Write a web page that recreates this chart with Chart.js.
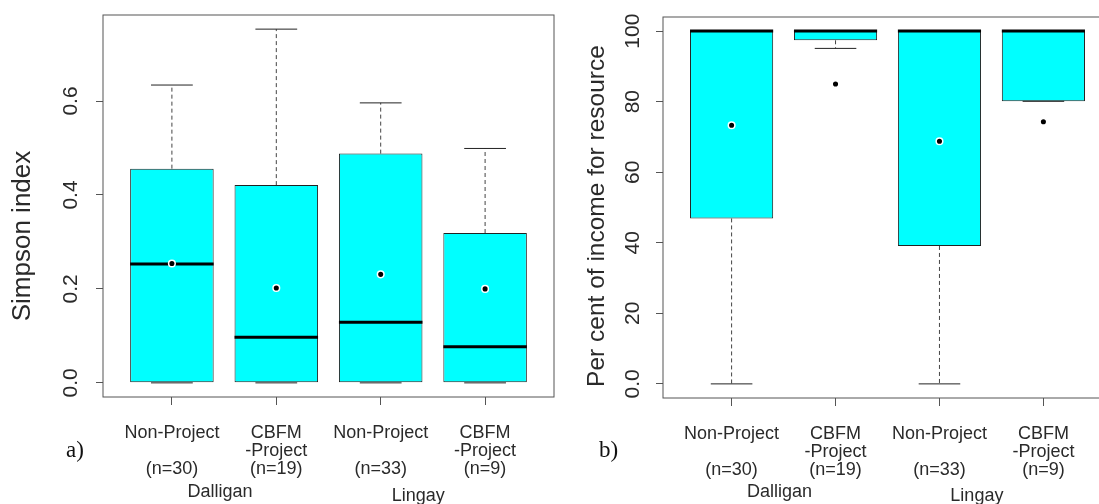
<!DOCTYPE html>
<html>
<head>
<meta charset="utf-8">
<script src="https://cdn.jsdelivr.net/npm/chart.js@4.4.1/dist/chart.umd.min.js"></script>
<style>
    html, body { margin: 0; padding: 0; background: #fff; width: 1099px; height: 504px; overflow: hidden; }
    .panel { position: absolute; top: 0; }
    .tag { position: absolute; font-family: "Liberation Serif", "DejaVu Serif", serif; font-size: 23px; line-height: 23px; color: #111; }
</style>
</head>
<body>
<div class="panel" style="left:0px"><canvas id="simpson" width="560" height="504"></canvas></div>
<div class="panel" style="left:565px"><canvas id="income" width="560" height="504"></canvas></div>
<div class="tag" style="left:66px; top:438px">a)</div>
<div class="tag" style="left:599px; top:438px">b)</div>
<script>

const categories = [
    ['Non-Project', '', '(n=30)'],
    ['CBFM', '-Project', '(n=19)'],
    ['Non-Project', '', '(n=33)'],
    ['CBFM', '-Project', '(n=9)']
]
const groups = ['Dalligan', 'Lingay']
const groupPos = [1.46, 3.36]

// a) Simpson index
const simpsonLow = [0, 0, 0, 0]
const simpsonQ1 = [0, 0, 0, 0]
const simpsonMedian = [0.253, 0.097, 0.129, 0.077]
const simpsonQ3 = [0.456, 0.421, 0.488, 0.319]
const simpsonHigh = [0.634, 0.753, 0.596, 0.499]
const simpsonMean = [0.254, 0.202, 0.231, 0.200]
const simpsonTicks = [0, 0.2, 0.4, 0.6]

// b) per cent of income for resource
const incomeLow = [0, 95.1, 0, 80.1]
const incomeQ1 = [46.9, 97.4, 39.1, 80.1]
const incomeMedian = [100, 100, 100, 100]
const incomeQ3 = [100, 100, 100, 100]
const incomeHigh = [100, 100, 100, 100]
const incomeMean = [73.3, 85.0, 68.8, 74.3]
const incomeTicks = [0, 20, 40, 60, 80, 100]

const FONT = '"Liberation Sans", Arial, sans-serif'
const TEXT = '#2a2a2a'

// whiskers, staples and medians go on top of the boxes, under the mean dots
const boxExtras = {
    id: 'boxExtras',
    afterDatasetDraw(chart, args, opts) {
        if (args.index !== 0) return
        const ctx = chart.ctx
        const y = chart.scales.y
        ctx.save()
        args.meta.data.forEach(function (bar, i) {
            let half = bar.width / 2
            let yLow = y.getPixelForValue(opts.low[i])
            let yQ1 = y.getPixelForValue(opts.q1[i])
            let yQ3 = y.getPixelForValue(opts.q3[i])
            let yHigh = y.getPixelForValue(opts.high[i])
            let yMed = y.getPixelForValue(opts.median[i])

            ctx.strokeStyle = '#444'
            ctx.lineWidth = 1
            ctx.setLineDash([4, 3])
            ctx.beginPath()
            if (yHigh < yQ3) { ctx.moveTo(bar.x, yQ3); ctx.lineTo(bar.x, yHigh) }
            if (yLow > yQ1) { ctx.moveTo(bar.x, yQ1); ctx.lineTo(bar.x, yLow) }
            ctx.stroke()
            ctx.setLineDash([])

            ctx.strokeStyle = '#222'
            ctx.beginPath()
            ctx.moveTo(bar.x - half / 2, yHigh); ctx.lineTo(bar.x + half / 2, yHigh)
            ctx.moveTo(bar.x - half / 2, yLow); ctx.lineTo(bar.x + half / 2, yLow)
            ctx.stroke()

            ctx.strokeStyle = '#000'
            ctx.lineWidth = 3
            ctx.beginPath()
            ctx.moveTo(bar.x - half, yMed); ctx.lineTo(bar.x + half, yMed)
            ctx.stroke()
        })
        ctx.restore()
    },
    afterDraw(chart, args, opts) {
        const ctx = chart.ctx
        const a = chart.chartArea
        const x = chart.scales.x
        ctx.save()
        ctx.strokeStyle = '#555'
        ctx.lineWidth = 1
        ctx.strokeRect(a.left, a.top, a.right - a.left, a.bottom - a.top)

        ctx.fillStyle = TEXT
        ctx.textAlign = 'center'
        ctx.textBaseline = 'middle'
        ctx.font = opts.titleSize + 'px ' + FONT
        ctx.translate(opts.titleX, opts.titleY)
        ctx.rotate(-Math.PI / 2)
        ctx.fillText(opts.title, 0, 0)
        ctx.restore()

        ctx.save()
        ctx.fillStyle = TEXT
        ctx.textAlign = 'center'
        ctx.textBaseline = 'middle'
        ctx.font = '18px ' + FONT
        groups.forEach(function (g, i) {
            ctx.fillText(g, x.getPixelForValue(groupPos[i]), opts.groupY[i])
        })
        ctx.restore()
    }
}

function boxplot(id, s) {
    let boxes = s.q1.map(function (v, i) {
        return { x: i + 1, y: [v, s.q3[i]] }
    })
    let means = s.mean.map(function (v, i) {
        return { x: i + 1, y: v }
    })

    return new Chart(document.getElementById(id), {
        type: 'bar',
        data: {
            datasets: [{
                type: 'bar',
                data: boxes,
                backgroundColor: '#00ffff',
                borderColor: '#222',
                borderWidth: 1,
                borderSkipped: false,
                categoryPercentage: 1,
                barPercentage: 0.8,
                order: 2
            }, {
                type: 'line',
                data: means,
                showLine: false,
                pointRadius: 3.3,
                pointBorderWidth: 1.5,
                pointBackgroundColor: '#000',
                pointBorderColor: '#fff',
                order: 1
            }]
        },
        plugins: [boxExtras],
        options: {
            responsive: false,
            animation: false,
            devicePixelRatio: 1,
            layout: { padding: { left: 0, top: s.top, right: s.right, bottom: 0 } },
            plugins: {
                legend: { display: false },
                tooltip: { enabled: false },
                boxExtras: {
                    low: s.low, q1: s.q1, median: s.median, q3: s.q3, high: s.high,
                    title: s.title, titleX: s.titleX, titleY: s.titleY, titleSize: s.titleSize,
                    groupY: [492, 496]
                }
            },
            scales: {
                x: {
                    type: 'linear',
                    min: 0.34,
                    max: 4.66,
                    offset: false,
                    afterBuildTicks: function (scale) {
                        scale.ticks = [1, 2, 3, 4].map(function (v) { return { value: v } })
                    },
                    afterFit: function (scale) {
                        scale.height = 504 - s.bottom
                        scale.paddingLeft = 0
                        scale.paddingRight = 0
                    },
                    border: { display: false },
                    grid: { offset: false, drawOnChartArea: false, drawTicks: true, tickLength: 8, color: '#555' },
                    ticks: {
                        autoSkip: false,
                        maxRotation: 0,
                        padding: 19,
                        color: TEXT,
                        font: { family: FONT, size: 18, lineHeight: 1 },
                        callback: function (v) { return categories[v - 1] }
                    }
                },
                y: {
                    min: s.min,
                    max: s.max,
                    afterBuildTicks: function (scale) {
                        scale.ticks = s.ticks.map(function (v) { return { value: v } })
                    },
                    afterFit: function (scale) {
                        scale.width = s.left
                        scale.paddingTop = 0
                        scale.paddingBottom = 0
                    },
                    border: { display: false },
                    grid: { drawOnChartArea: false, drawTicks: true, tickLength: 7, color: '#555' },
                    ticks: {
                        autoSkip: false,
                        minRotation: 90,
                        maxRotation: 90,
                        crossAlign: 'center',
                        padding: s.tickPad,
                        color: TEXT,
                        font: { family: FONT, size: 21 },
                        callback: s.format
                    }
                }
            }
        }
    })
}

boxplot('simpson', {
    low: simpsonLow, q1: simpsonQ1, median: simpsonMedian, q3: simpsonQ3, high: simpsonHigh, mean: simpsonMean,
    ticks: simpsonTicks, min: -0.0301, max: 0.7831,
    left: 103, right: 6, top: 15, bottom: 397, tickPad: 10,
    title: 'Simpson index', titleX: 23, titleY: 236, titleSize: 26,
    format: function (v) { return v.toFixed(1) }
})

boxplot('income', {
    low: incomeLow, q1: incomeQ1, median: incomeMedian, q3: incomeQ3, high: incomeHigh, mean: incomeMean,
    ticks: incomeTicks, min: -4, max: 104,
    left: 98, right: 13, top: 17, bottom: 398, tickPad: 5,
    title: 'Per cent of income for resource', titleX: 32, titleY: 216, titleSize: 24.5,
    format: function (v) { return v === 0 ? '0.0' : String(v) }
})

</script>
</body>
</html>
